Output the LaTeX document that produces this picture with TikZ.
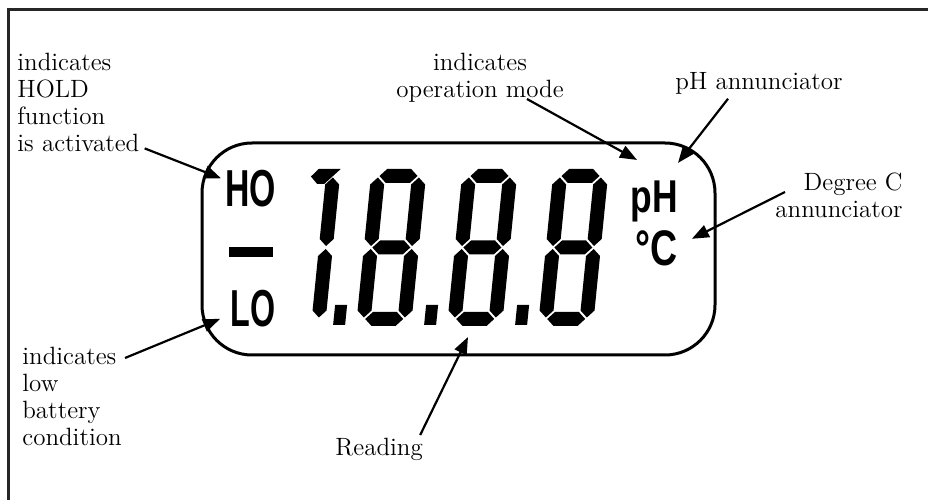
\documentclass[tikz,border=0pt]{standalone}
\usepackage{fontspec}
\usepackage{graphicx}
\usetikzlibrary{arrows.meta,positioning}
\newfontfamily\segfont{Liberation Sans}

\tikzstyle{pointer} = [draw, line width=1.1pt, -{Triangle[length=8.5pt,width=6.5pt]}]
\tikzstyle{note} = [inner sep=0pt, font=\fontsize{12.5}{13.5}\selectfont]
\tikzstyle{annun} = [inner sep=0pt, anchor=base west, font=\segfont\bfseries]

% one bar of the seven segment display: centre, from, to
\newcommand{\lcdh}[3]{\fill (#2,#1) -- (#2+7,#1+7) -- (#3-7,#1+7) -- (#3,#1) -- (#3-7,#1-7) -- (#2+7,#1-7) -- cycle;}
\newcommand{\lcdv}[3]{\fill (#1,#2) -- (#1+7,#2+7) -- (#1+7,#3-7) -- (#1,#3) -- (#1-7,#3-7) -- (#1-7,#2+7) -- cycle;}
\newcommand{\lcdeight}{%
  \lcdh{7}{8.5}{46.5}
  \lcdh{78.5}{8.5}{46.5}
  \lcdh{150}{8.5}{46.5}
  \lcdv{7}{8.5}{77}
  \lcdv{7}{80}{148.5}
  \lcdv{48}{8.5}{77}
  \lcdv{48}{80}{148.5}
  \fill (-23,1) rectangle (-11,21);}

\begin{document}
\begin{tikzpicture}[x=0.5pt, y=0.5pt]
  \useasboundingbox (0,0) rectangle (928,499);

  \draw[line width=1.3pt, black!85] (8.5,-5) |- (935,489.5);
  \draw[line width=1.5pt, rounded corners=25pt] (202,144) rectangle (715,356);

  % annunciators
  \node[annun] (hold) at (225,292) {\fontsize{26}{26}\selectfont\scalebox{0.65}[1]{HO}};
  \node[fill, inner sep=0pt, minimum width=22pt, minimum height=5pt] (bar) at (251,247) {};
  \node[annun] (low) at (230,172) {\fontsize{26}{26}\selectfont\scalebox{0.62}[1]{LO}};
  \node[annun] (ph) at (630,286) {\fontsize{23}{23}\selectfont\scalebox{0.77}[1]{pH}};
  \node[annun] (degc) at (635,233) {\fontsize{25}{25}\selectfont\scalebox{0.75}[1]{°C}};

  % reading
  \begin{scope}[shift={(270,173)}, xslant=0.1]
    \lcdv{48}{8.5}{77}
    \lcdv{48}{80}{148.5}
    \fill (26,149.5) -- (33,157) -- (55,157) -- (40,142) -- (33,142) -- cycle;
  \end{scope}
  \foreach \ox in {356,447,538}{
    \begin{scope}[shift={(\ox,173)}, xslant=0.1]
      \lcdeight
    \end{scope}
  }

  % notes
  \node[note, anchor=north west, align=left] (holdnote) at (17,446) {indicates\\HOLD\\function\\is activated};
  \node[note, anchor=north west, align=left] (lownote) at (22,152) {indicates\\low\\battery\\condition};
  \node[note, anchor=north, align=center] (modenote) at (480,446) {indicates\\operation mode};
  \node[note, anchor=north west] (phnote) at (675,427) {pH annunciator};
  \node[note, anchor=north east, align=right] (degnote) at (903,326) {Degree C\\annunciator};
  \node[note, anchor=north west] (readnote) at (335,61) {Reading};

  \coordinate (readtip) at (468,162);

  \draw[pointer] ([shift={(2.5pt,2pt)}]holdnote.south east) -- ([shift={(-2pt,-4pt)}]hold.north west);
  \draw[pointer] ([shift={(51.5pt,-5.5pt)}]lownote.north west) -- ([shift={(-5pt,4.5pt)}]low.south west);
  \draw[pointer] ([shift={(23.5pt,2pt)}]modenote.south) -- ([shift={(3.5pt,10.5pt)}]ph.north west);
  \draw[pointer] ([shift={(-15.5pt,-2pt)}]phnote.south) -- ([shift={(0pt,9pt)}]ph.north east);
  \draw[pointer] ([shift={(-59pt,-9.5pt)}]degnote.north east) -- ([shift={(7pt,5pt)}]degc.east);
  \draw[pointer] ([shift={(-1.5pt,1.5pt)}]readnote.north east) -- (readtip);

\end{tikzpicture}
\end{document}
